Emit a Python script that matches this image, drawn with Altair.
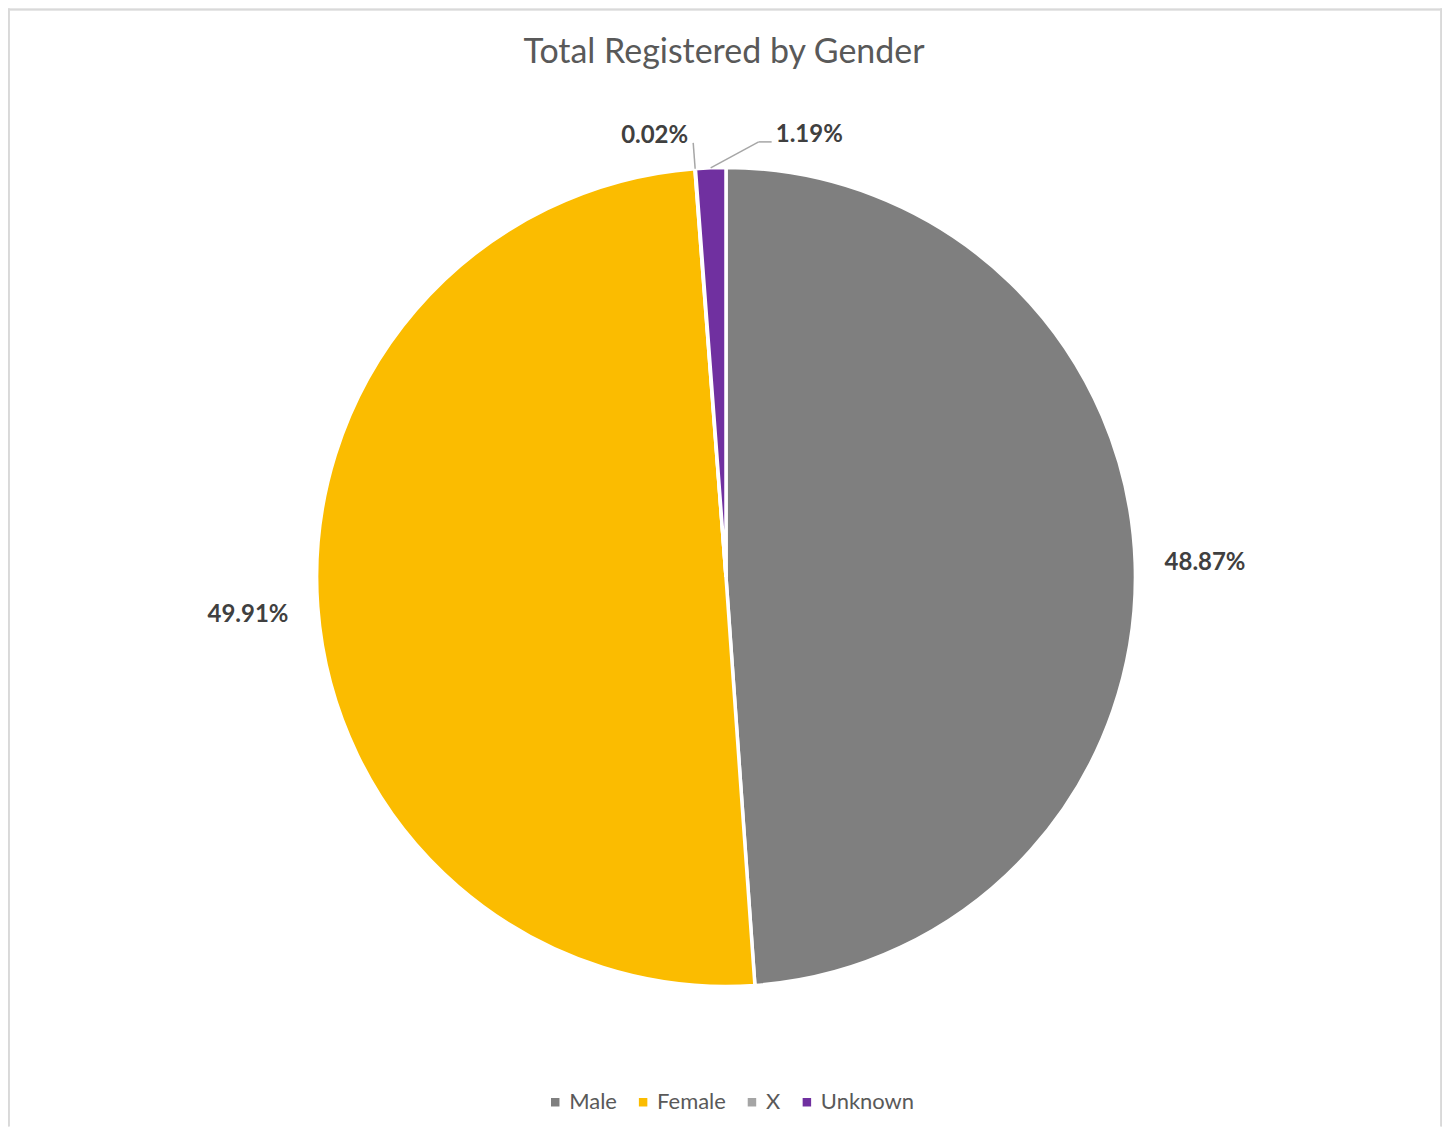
import altair as alt
import pandas as pd

# ---- data ----
categories = ["Male", "Female", "X", "Unknown"]
values = [48.87, 49.91, 0.02, 1.19]
labels = ["48.87%", "49.91%", "0.02%", "1.19%"]
colors = ["#7F7F7F", "#FBBC00", "#A5A5A5", "#7030A0"]
title_text = "Total Registered by Gender"

df = pd.DataFrame({
    "category": categories,
    "value": values,
    "label": labels,
    "order": list(range(len(categories))),
})

# ---- layout ----
W, H = 1436, 1119
CX, CY = 719, 569
R = 410
FONT = "Lato"

base = (
    alt.Chart(df)
    .transform_joinaggregate(total="sum(value)")
    .transform_window(cum="sum(value)", sort=[alt.SortField("order")], frame=[None, 0])
    .transform_calculate(mid="(datum.cum - datum.value/2) / datum.total * 2 * PI")
)

arc = alt.Chart(df).mark_arc(radius=R, stroke="white", strokeWidth=3.5).encode(
    theta=alt.Theta("value:Q", stack=True),
    color=alt.Color(
        "category:N",
        scale=alt.Scale(domain=categories, range=colors),
        sort=categories,
        legend=alt.Legend(
            title=None,
            orient="none",
            legendX=537,
            legendY=1084,
            direction="horizontal",
            columns=4,
            symbolType="square",
            symbolSize=72,
            symbolStrokeWidth=0,
            labelFontSize=22,
            labelFont=FONT,
            labelColor="#595959",
            labelOffset=3,
            columnPadding=15,
            padding=0,
        ),
    ),
    order=alt.Order("order:Q"),
    x=alt.value(CX),
    y=alt.value(CY),
)

label_style = dict(fontSize=24, fontWeight="bold", color="#404040", font=FONT, baseline="middle", align="center")

big_labels = (
    base.transform_filter("datum.value > 10")
    .transform_calculate(
        lx=f"{CX} + 480 * sin(datum.mid)",
        ly=f"{CY} - 480 * cos(datum.mid)",
    )
    .mark_text(dy=3, **label_style)
    .encode(x=alt.X("lx:Q", scale=None), y=alt.Y("ly:Q", scale=None), text="label:N")
)

# small slices: labels lifted above the pie with leader lines
label_offsets = {"X": -38, "Unknown": 100}
elbow_offsets = {"X": 0, "Unknown": 49}
tail_lengths = {"X": 0, "Unknown": 13}

small_layers = []
for cat in ["X", "Unknown"]:
    b = base.transform_filter(f"datum.category == '{cat}'").transform_calculate(
        lx=f"{CX} + 444 * sin(datum.mid)",
        ly=f"{CY} - 444 * cos(datum.mid)",
        ex=f"{CX} + 410 * sin(datum.mid)",
        ey=f"{CY} - 410 * cos(datum.mid)",
        kx=f"{CX} + 436 * sin(datum.mid) + {elbow_offsets[cat]}",
        ky=f"{CY} - 436 * cos(datum.mid)",
        tx=f"{CX} + 436 * sin(datum.mid) + {elbow_offsets[cat] + tail_lengths[cat]}",
    )
    small_layers.append(
        b.mark_text(dx=label_offsets[cat], dy=1, **label_style).encode(
            x=alt.X("lx:Q", scale=None), y=alt.Y("ly:Q", scale=None), text="label:N"
        )
    )
    small_layers.append(
        b.mark_rule(color="#A6A6A6", strokeWidth=1.5).encode(
            x=alt.X("ex:Q", scale=None), y=alt.Y("ey:Q", scale=None),
            x2="kx:Q", y2="ky:Q",
        )
    )
    if tail_lengths[cat]:
        small_layers.append(
            b.mark_rule(color="#A6A6A6", strokeWidth=1.5).encode(
                x=alt.X("kx:Q", scale=None), y=alt.Y("ky:Q", scale=None),
                x2="tx:Q", y2="ky:Q",
            )
        )

title = alt.Chart(pd.DataFrame({"t": [title_text]})).mark_text(
    fontSize=34, font=FONT, color="#595959", align="center", baseline="alphabetic"
).encode(text="t:N", x=alt.value(717), y=alt.value(54))

border_color = "#D9D9D9"
border_left = alt.Chart(df).mark_rule(color=border_color, strokeWidth=1.5).encode(
    x=alt.value(0.75), y=alt.value(0), y2=alt.value(H)
)
border_right = alt.Chart(df).mark_rule(color=border_color, strokeWidth=1.5).encode(
    x=alt.value(W - 0.75), y=alt.value(0), y2=alt.value(H)
)
border_top = alt.Chart(df).mark_rule(color=border_color, strokeWidth=1.5).encode(
    y=alt.value(0.75), x=alt.value(0), x2=alt.value(W)
)

chart = (
    alt.layer(arc, big_labels, *small_layers, title, border_left, border_right, border_top)
    .properties(width=W, height=H, padding=0, autosize=alt.AutoSizeParams(type="none"),
                background="white")
    .configure_view(stroke=None)
)

chart.save("out.html", embed_options={"renderer": "svg", "actions": False})
